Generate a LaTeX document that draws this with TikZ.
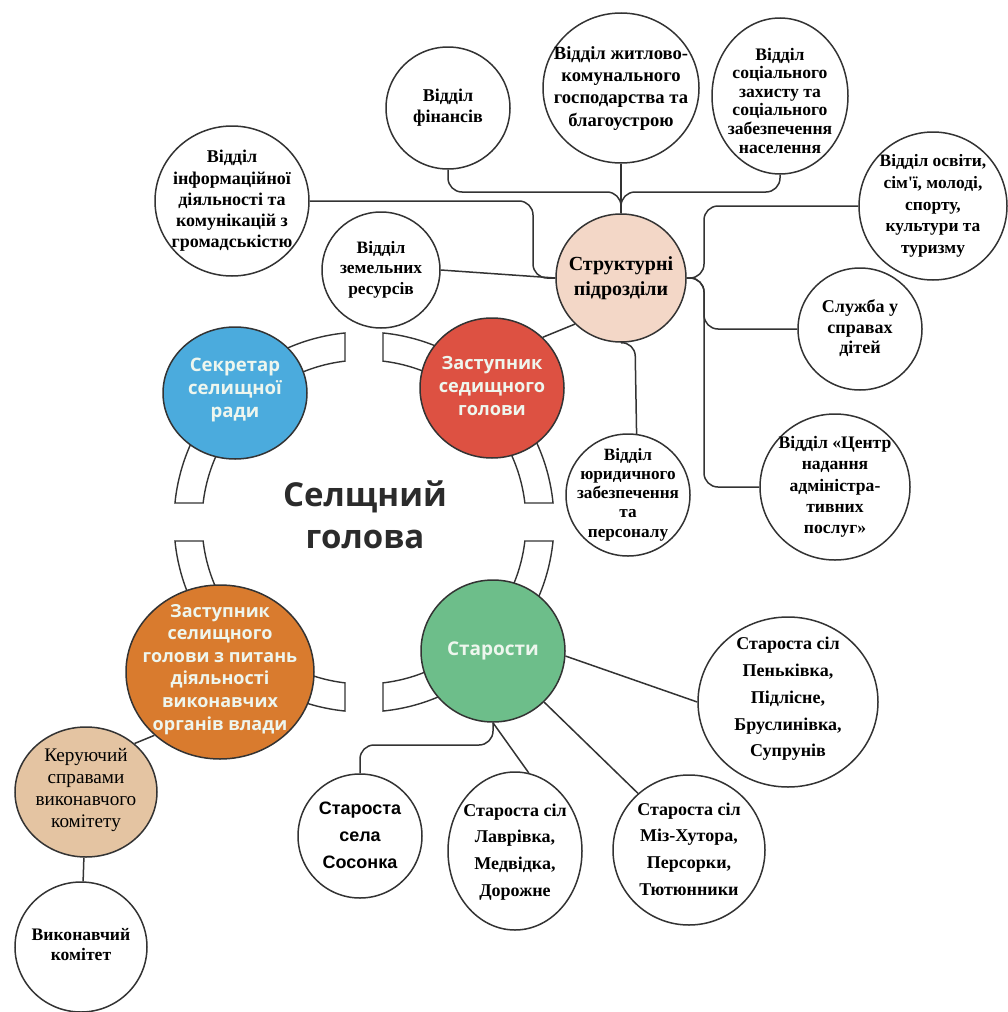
\documentclass[tikz,border=0pt]{standalone}
\usepackage{fontspec}
\setmainfont{Liberation Serif}[Ligatures=TeXOff]
\newfontfamily\arialf{Liberation Sans}
\newfontfamily\headf{Open Sans}
\usetikzlibrary{calc,shapes.geometric}
\definecolor{cblue}{HTML}{4BABDD}
\definecolor{cred}{HTML}{DD5142}
\definecolor{cgreen}{HTML}{6DBE8A}
\definecolor{corange}{HTML}{D97B2E}
\definecolor{cpink}{HTML}{F3D7C7}
\definecolor{ctan}{HTML}{E4C4A2}
\definecolor{ctxt}{HTML}{EEF6EE}
\definecolor{headc}{HTML}{2B2B2B}
\definecolor{lc}{HTML}{333333}
\newcommand{\zt}[2][0pt]{\makebox[0pt]{\smash{\raisebox{\dimexpr-0.25em-#1\relax}{\begin{tabular}{@{}c@{}}#2\end{tabular}}}}}
\newcommand{\fs}[2]{\fontsize{#1}{#2}\selectfont}
\begin{document}
\begin{tikzpicture}[x=0.5pt,y=-0.5pt,
  bub/.style={shape=ellipse, draw=lc, line width=0.75pt, fill=white, inner sep=0pt},
  conn/.style={draw=lc, line width=0.75pt},
  rconn/.style={conn, rounded corners=7},
  ringseg/.style={draw=lc, line width=0.7pt, fill=white},
  sz/.style 2 args={minimum width=#1pt, minimum height=#2pt}]
\useasboundingbox (0,0) rectangle (1007,1012);

% ring around the head
\coordinate (rc) at (364,522);
\foreach \b in {0,90,180,270}{
  \draw[ringseg] ($(rc)+(\b+5.74:190)$) arc[start angle=\b+5.74, end angle=\b+84.26, radius=190]
    -- ($(rc)+(\b+83.27:162)$) arc[start angle=\b+83.27, end angle=\b+6.73, radius=162] -- cycle;
}

\node (head) at (365,519) {\headf\bfseries\color{headc}\fs{16.5}{21}\zt{Селщний\\голова}};

% top departments
\node[bub, sz={62}{61}] (fin) at (448,108) {\fs{9}{10.5}\bfseries\zt{Відділ\\фінансів}};
\node[bub, sz={78}{75}] (zhkg) at (621,88) {\fs{9.3}{11.2}\bfseries\zt{Відділ житлово-\\комунального\\господарства та\\благоустрою}};
\node[bub, sz={68}{78}] (soc) at (780,96) {\fs{8.8}{9.3}\bfseries\zt[3.5pt]{Відділ\\соціального\\захисту та\\соціального\\забезпечення\\населення}};
\node[bub, sz={77}{75}] (info) at (232,201) {\fs{9}{10.6}\bfseries\zt{Відділ\\інформаційної\\діяльності та\\комунікацій з\\громадськістю}};
\node[bub, sz={59}{58}] (zem) at (381,270) {\fs{8.7}{10.2}\bfseries\zt{Відділ\\земельних\\ресурсів}};
\node[bub, sz={65}{64}, fill=cpink] (struct) at (621,278) {\fs{10}{12.5}\bfseries\zt{Структурні\\підрозділи}};
\node[bub, sz={74}{74}] (osv) at (933,206) {\fs{8.7}{10.8}\bfseries\zt{Відділ освіти,\\сім'ї, молоді,\\спорту,\\культури та\\туризму}};
\node[bub, sz={62}{61}] (sl) at (860,329) {\fs{9}{10.2}\bfseries\zt{Служба у\\справах\\дітей}};
\node[bub, sz={75}{73}] (centr) at (835,487) {\fs{8.8}{10.6}\bfseries\zt{Відділ «Центр\\надання\\адміністра-\\тивних\\послуг»}};
\node[bub, sz={62}{61}] (yur) at (628,495) {\fs{8.6}{9.6}\bfseries\zt{Відділ\\юридичного\\забезпечення\\та\\персоналу}};

% coloured circles
\node[bub, sz={72}{66}, fill=cblue] (blue) at (235,393) {\headf\bfseries\color{ctxt}\fs{9.3}{11.5}\zt[-1.5pt]{Секретар\\селищної\\ради}};
\node[bub, sz={72}{70}, fill=cred] (red) at (492,388) {\headf\bfseries\color{ctxt}\fs{9.1}{11.5}\zt{Заступник\\седищного\\голови}};
\node[bub, sz={72}{71}, fill=cgreen] (green) at (493,651) {\headf\bfseries\color{ctxt}\fs{9.5}{11.5}\zt{Старости}};
\node[bub, sz={94}{87}, fill=corange] (orange) at (220,672) {\headf\bfseries\color{ctxt}\fs{9}{11.3}\zt[-1.5pt]{Заступник\\селищного\\голови з питань\\діяльності\\виконавчих\\органів влади}};

% left branch
\node[bub, sz={71}{65}, fill=ctan] (ker) at (86,792) {\fs{9.6}{11}\zt[-1pt]{Керуючий\\справами\\виконавчого\\комітету}};
\node[bub, sz={66}{65}] (vyk) at (81,947) {\fs{8.8}{10}\bfseries\zt{Виконавчий\\комітет}};

% elders
\node[bub, sz={62}{62}] (sos) at (360,836) {\arialf\bfseries\fs{9}{13.5}\zt{Староста\\села\\Сосонка}};
\node[bub, sz={67}{79}] (lav) at (515,851) {\fs{9}{13.4}\bfseries\zt{Староста сіл\\Лаврівка,\\Медвідка,\\Дорожне}};
\node[bub, sz={76}{75}] (miz) at (689,850) {\fs{9}{13.4}\bfseries\zt{Староста сіл\\Міз-Хутора,\\Персорки,\\Тютюнники}};
\node[bub, sz={90}{85}] (pen) at (788,702) {\fs{9}{13.4}\bfseries\zt[-2pt]{Староста сіл\\Пеньківка,\\Підлісне,\\Бруслинівка,\\Супрунів}};

% connectors: structural units
\coordinate (jy) at (0,192);
\draw[rconn] (fin.south) -- (fin.south |- jy) -- (621,192) -- (struct.north);
\draw[rconn] (soc.south) -- (soc.south |- jy) -- (621,192) -- (struct.north);
\draw[conn] (zhkg.south) -- (struct.north);
\draw[rconn] (info.east) -- (533,201) -- (533,278) -- (struct.west);
\draw[conn] (zem.east) -- (struct.west);
\draw[rconn] (struct.east) -- (704,278) -- (704,206) -- (osv.west);
\draw[rconn] (struct.east) -- (704,278) -- (704,329) -- (sl.west);
\draw[rconn] (struct.east) -- (704,278) -- (704,487) -- (centr.west);
\draw[rconn] (struct.south) -- (635,342) -- (yur.82);
\draw[conn] (red.45) -- (struct.225);

% connectors: elders
\draw[conn] (green.-4) -- (pen.west);
\draw[conn] (green.-45) -- (miz.132);
\draw[conn] (green.south) -- (lav.80);
\draw[rconn] (green.south) -- (493,745) -- (360,745) -- (sos.north);

% connectors: left branch
\draw[conn] (orange.224) -- (ker.45);
\draw[conn] (ker) -- (vyk);
\end{tikzpicture}
\end{document}
